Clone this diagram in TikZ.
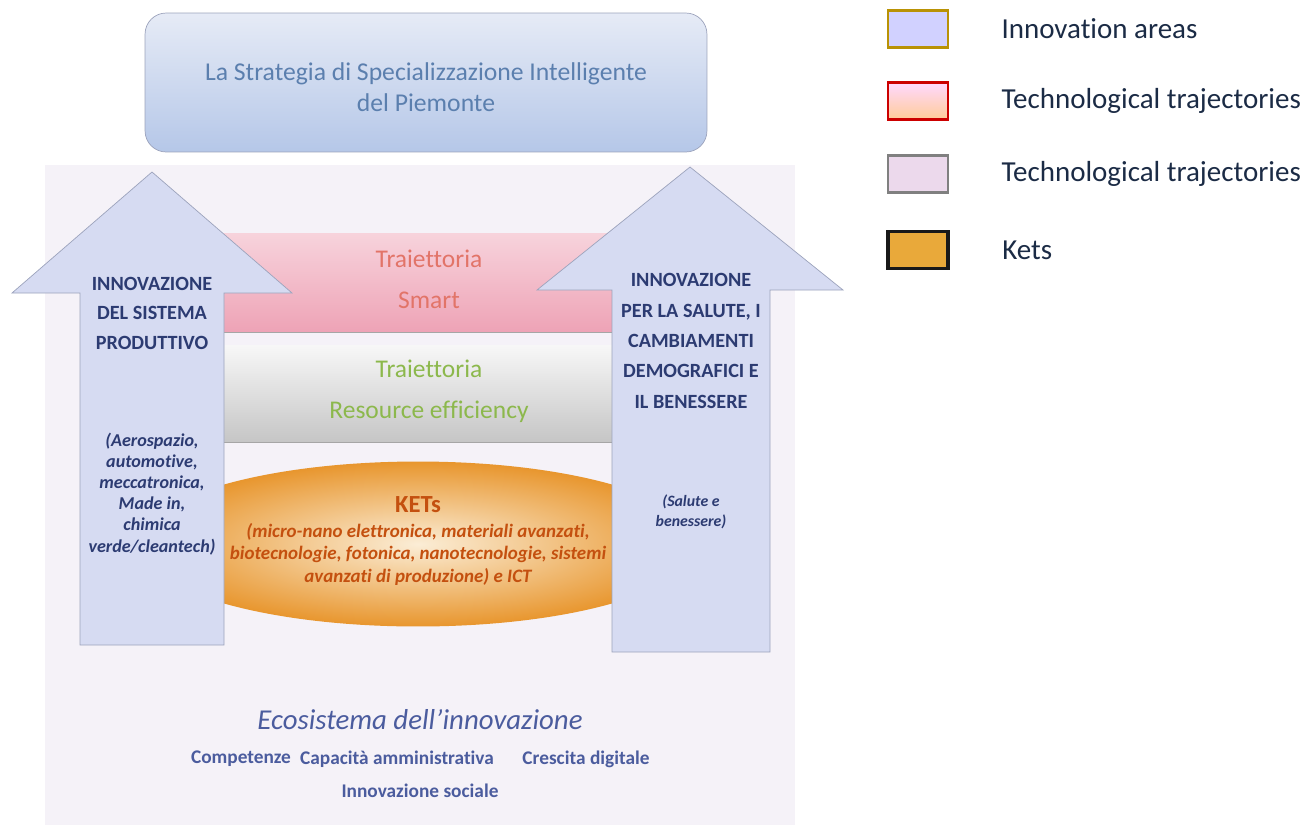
\documentclass[tikz,border=0pt]{standalone}
\usepackage{fontspec}
\setmainfont{Carlito}[Ligatures=NoCommon]
\usetikzlibrary{positioning,shapes.geometric}

\definecolor{housebg}{HTML}{F5F2F8}
\definecolor{arrowfill}{HTML}{D6DBF2}
\definecolor{arrowline}{HTML}{9CA3BC}
\definecolor{areablue}{HTML}{2C3B72}
\definecolor{titleblue}{HTML}{5B7FAE}
\definecolor{titletop}{HTML}{E6EBF6}
\definecolor{titlebottom}{HTML}{B5C7E8}
\definecolor{smarttop}{HTML}{F7D3DC}
\definecolor{smartbottom}{HTML}{EEA3B6}
\definecolor{smarttext}{HTML}{E27468}
\definecolor{efftext}{HTML}{8CB84C}
\definecolor{ketsinner}{HTML}{FBEDD6}
\definecolor{ketsouter}{HTML}{E8962E}
\definecolor{ketstext}{HTML}{C4500F}
\definecolor{ketsfill}{HTML}{E9A93A}
\definecolor{ecoblue}{HTML}{4B5C9E}
\definecolor{legendtext}{HTML}{1B2B45}

\begin{document}
\begin{tikzpicture}[semithick, x=0.02cm, y=-0.02cm]

    \tikzstyle{area} = [fill=arrowfill, draw=arrowline, thin]
    \tikzstyle{areatitle} = [text=areablue, align=center, font=\fontsize{11.5}{16.8}\selectfont\bfseries]
    \tikzstyle{areanote} = [text=areablue, align=center, font=\fontsize{10.3}{12}\selectfont\bfseries\itshape]
    \tikzstyle{band} = [rectangle, minimum width=8.8cm, inner sep=0pt]
    \tikzstyle{bandtext} = [align=center, inner sep=0pt, font=\fontsize{14.5}{23.3}\selectfont]
    \tikzstyle{ecoitem} = [text=ecoblue, font=\fontsize{11}{12}\selectfont\bfseries, inner sep=0pt]
    \tikzstyle{legendbox} = [rectangle, minimum width=1.2cm, minimum height=0.74cm, line width=1.2pt]
    \tikzstyle{legendlabel} = [text=legendtext, font=\fontsize{16.5}{18}\selectfont, inner sep=0pt, anchor=west]

    \useasboundingbox (0,0) rectangle (1308,825);

    % pale background of the house
    \fill[housebg] (45,165) rectangle (795,825);

    % trajectories
    \node (smart) [band, minimum height=1.98cm, top color=smarttop, bottom color=smartbottom] at (418,282.5) {};
    \node (smartlabel) [bandtext, text=smarttext] at (429,279) {Traiettoria\\Smart};
    \draw[gray!70, thin] (200,332) -- (640,332);

    \node (efficiency) [band, minimum height=1.94cm, top color=gray!6, bottom color=gray!45] at (418,393.5) {};
    \node (efficiencylabel) [bandtext, text=efftext] at (429,391) {Traiettoria\\Resource efficiency};
    \draw[gray!70, thin] (200,442) -- (640,442);

    % KETs
    \node (kets) [ellipse, minimum width=11.2cm, minimum height=3.3cm, inner sep=0pt, inner color=ketsinner, outer color=ketsouter] at (418,544) {};
    \node (ketslabel) [text=ketstext, align=center, font=\fontsize{10.8}{12.8}\selectfont\bfseries\itshape] at (418,541)
        {{\upshape\fontsize{14}{15}\selectfont KETs}\\[1pt](micro-nano elettronica, materiali avanzati,\\biotecnologie, fotonica, nanotecnologie, sistemi\\avanzati di produzione) e ICT};

    % innovation areas
    \draw[area] (80,645) -- (80,293) -- (12,293) -- (152,172) -- (292,293) -- (224,293) -- (224,645) -- cycle;
    \draw[area] (612,652) -- (612,290) -- (537,290) -- (690,167) -- (843,290) -- (770,290) -- (770,652) -- cycle;

    \node (produttivo) [areatitle] at (152,313) {INNOVAZIONE\\DEL SISTEMA\\PRODUTTIVO};
    \node (settori) [areanote] at (152,494) {(Aerospazio,\\automotive,\\meccatronica,\\Made in,\\chimica\\verde/cleantech)};

    \node (salute) [areatitle, font=\fontsize{11.5}{17.3}\selectfont\bfseries] at (691,341) {INNOVAZIONE\\PER LA SALUTE, I\\CAMBIAMENTI\\DEMOGRAFICI E\\IL BENESSERE};
    \node (benessere) [areanote, font=\fontsize{9}{11.4}\selectfont\bfseries\itshape] at (691,512) {(Salute e\\benessere)};

    % strategy
    \node (strategia) [rectangle, rounded corners=12pt, minimum width=11.24cm, minimum height=2.78cm, top color=titletop, bottom color=titlebottom, draw=arrowline, thin] at (426,82.5) {};
    \node (strategialabel) [text=titleblue, align=center, font=\fontsize{14.6}{17.6}\selectfont] at (426,87.5)
        {La Strategia di Specializzazione Intelligente\\del Piemonte};

    % ecosystem
    \node (ecosistema) [text=ecoblue, font=\fontsize{16.4}{18}\selectfont\itshape] at (420,720) {Ecosistema dell'innovazione};
    \node (competenze) [ecoitem] at (241,759) {Competenze};
    \node (capacita) [ecoitem] at (397,759) {Capacità amministrativa};
    \node (crescita) [ecoitem] at (586,759) {Crescita digitale};
    \node (sociale) [ecoitem] at (420,791) {Innovazione sociale};

    % legend
    \node (areasbox) [legendbox, fill=blue!18!white, draw=olive!60!orange] at (918,29) {};
    \node (smartbox) [legendbox, top color=magenta!15!white, bottom color=orange!40!white, draw=red!80!black] at (918,101) {};
    \node (effbox)   [legendbox, fill=violet!15!white, draw=gray] at (918,174) {};
    \node (ketsbox)  [legendbox, fill=ketsfill, draw=black!90, line width=2pt] at (918,250) {};

    \node (areaslabel) [legendlabel, right=1.04cm of areasbox.east] {Innovation areas};
    \node (smartlegend) [legendlabel, right=1.04cm of smartbox.east] {Technological trajectories};
    \node (efflegend)   [legendlabel, right=1.04cm of effbox.east] {Technological trajectories};
    \node (ketslegend)  [legendlabel, right=1.04cm of ketsbox.east] {Kets};
\end{tikzpicture}
\end{document}
